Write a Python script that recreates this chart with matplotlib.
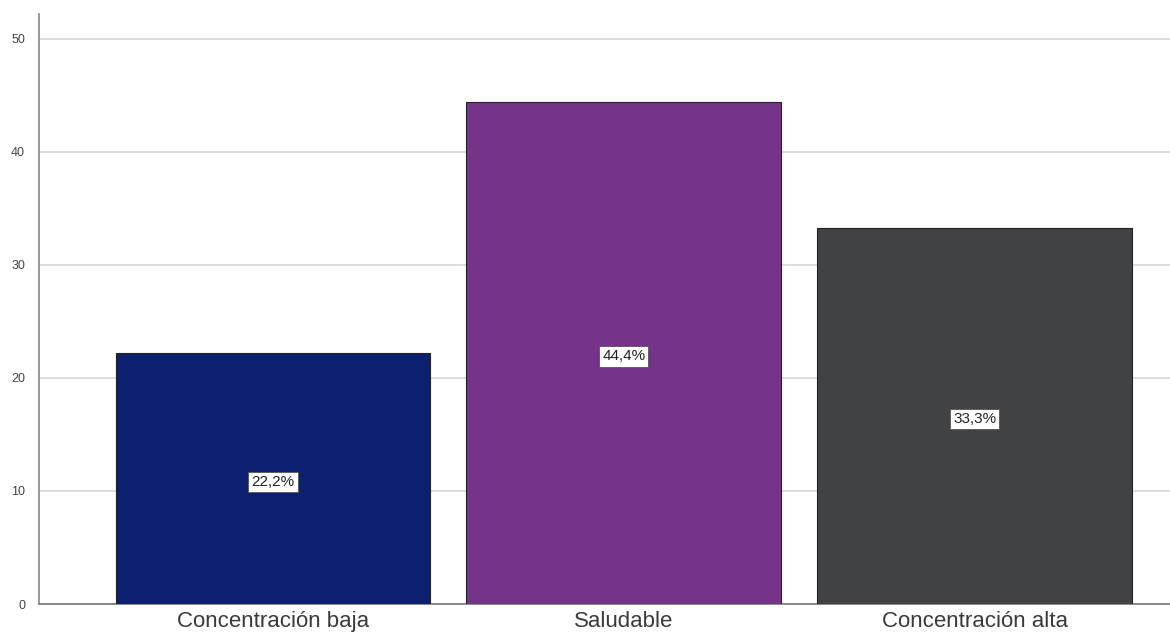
import matplotlib.pyplot as plt

categories = ['Concentración baja', 'Saludable', 'Concentración alta']
percentages = [22.2, 44.4, 33.3]
labels = ['22,2%', '44,4%', '33,3%']
colors = ['#0b2170', '#76338a', '#404243']

plt.rcParams['font.family'] = ['Liberation Sans', 'DejaVu Sans']

fig = plt.figure(figsize=(11.7, 6.41), dpi=100)
ax = fig.add_axes([0.0333, 0.0577, 0.9667, 0.9204])

x = range(len(categories))
bars = ax.bar(x, percentages, width=0.897, color=colors, edgecolor='#222222',
              linewidth=0.8, zorder=3)

for b, lab in zip(bars, labels):
    ax.text(b.get_x() + b.get_width() / 2, b.get_height() / 2 - 0.3, lab,
            ha='center', va='center', fontsize=11, color='#222222', zorder=4,
            bbox=dict(boxstyle='square,pad=0.2', facecolor='white',
                      edgecolor='#555555', linewidth=0.6))

ax.set_xlim(-0.667, 2.557)
ax.set_ylim(0, 52.2)
ax.set_yticks([0, 10, 20, 30, 40, 50])
ax.set_xticks(list(x))
ax.set_xticklabels(categories, fontsize=16, color='#3a3a3a')
ax.tick_params(axis='y', labelsize=9, labelcolor='#444444', length=0, pad=10)
ax.tick_params(axis='x', length=0, pad=5)
ax.grid(axis='y', color='#d6d6d6', linewidth=1.2, zorder=0)

for s in ['top', 'right']:
    ax.spines[s].set_visible(False)
ax.spines['left'].set_color('#888888')
ax.spines['bottom'].set_color('#777777')
ax.spines['left'].set_linewidth(1.2)
ax.spines['bottom'].set_linewidth(1.2)

fig.savefig('out.png', dpi=100)
